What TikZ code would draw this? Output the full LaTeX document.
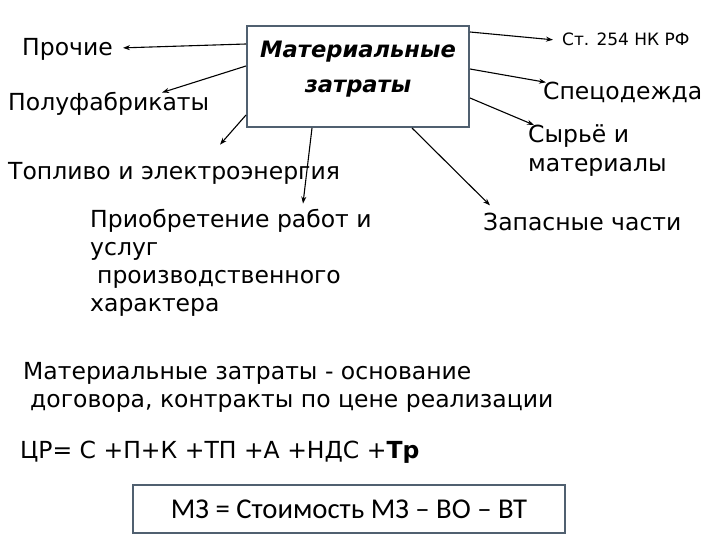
\documentclass[tikz,border=0pt]{standalone}
\usepackage{fontspec}
\setmainfont{DejaVu Sans}
\newfontfamily\calibrifont{Carlito}
\usetikzlibrary{arrows.meta}

\definecolor{boxline}{RGB}{80,96,112}

\begin{document}
\begin{tikzpicture}[x=1pt,y=-1pt,
  lbl/.style={anchor=base west,inner sep=0pt,
    font=\fontsize{23.5}{29}\selectfont,align=left},
  arr/.style={-{Stealth[length=7pt,width=5pt]},line width=1.1pt},
  >=Stealth
]
\useasboundingbox (0,0) rectangle (720,540);
% central box
\node[draw=boxline,line width=2pt,fill=white,
      minimum width=222pt,minimum height=101pt,inner sep=0pt] (mz)
  at (358,76.5) {};
\node[font=\fontsize{22.6}{35}\bfseries\itshape\selectfont,align=center] (mzt)
  at ([yshift=7pt]mz.center) {Материальные\\затраты};
% kinds of costs (multi-line texts sit on their last baseline)
\node[lbl] (proch) at (22,56)  {Прочие};
\node[lbl] (polu)  at (8,111)  {Полуфабрикаты};
\node[lbl] (topl)  at (8,180)  {Топливо и электроэнергия};
\node[lbl,font=\fontsize{23.5}{28}\selectfont] (prio)  at (90,311)
  {Приобретение работ и\\услуг\\\hspace*{7pt}производственного\\характера};
\node[lbl,font=\fontsize{17}{20}\selectfont] (st) at (562,46) {Ст. 254 НК РФ};
\node[lbl] (spec)  at (543,100) {Спецодежда};
\node[lbl] (syr)   at (528,172) {Сырьё и\\материалы};
\node[lbl] (zap)   at (483,230) {Запасные части};
% notes
\node[lbl,font=\fontsize{23.5}{28}\selectfont] (osn) at (23,407)
  {Материальные затраты - основание\\\hspace*{7pt}договора, контракты по цене реализации};
\node[lbl] (cr) at (20,458) {ЦР= С +П+К +ТП +А +НДС +\textbf{Тр}};
\node[draw=boxline,line width=1.5pt,minimum width=432pt,minimum height=48pt,
      font=\calibrifont\fontsize{28.7}{30}\selectfont] (mzf)
  at (349,509) {МЗ = Стоимость МЗ – ВО – ВТ};
% arrows
\draw[arr] ([yshift=32.5pt]mz.west)  -- ([xshift=10pt,yshift=2pt]proch.east);
\draw[arr] ([yshift=10.5pt]mz.west)  -- ([xshift=154pt]polu.north west);
\draw[arr] ([yshift=-38.5pt]mz.west) -- ([xshift=212pt,yshift=18pt]topl.north west);
\draw[arr] ([xshift=-46pt]mz.south)  -- ([xshift=213pt,yshift=5pt]prio.north west);
\draw[arr] ([xshift=54pt]mz.south)   -- ([xshift=7pt,yshift=7pt]zap.north west);
\draw[arr] ([yshift=44.5pt]mz.east)  -- ([xshift=-9pt]st.west);
\draw[arr] ([yshift=7.5pt]mz.east)   -- ([xshift=3pt]spec.north west);
\draw[arr] ([yshift=-21.5pt]mz.east) -- ([xshift=6pt]syr.north west);
\end{tikzpicture}
\end{document}
